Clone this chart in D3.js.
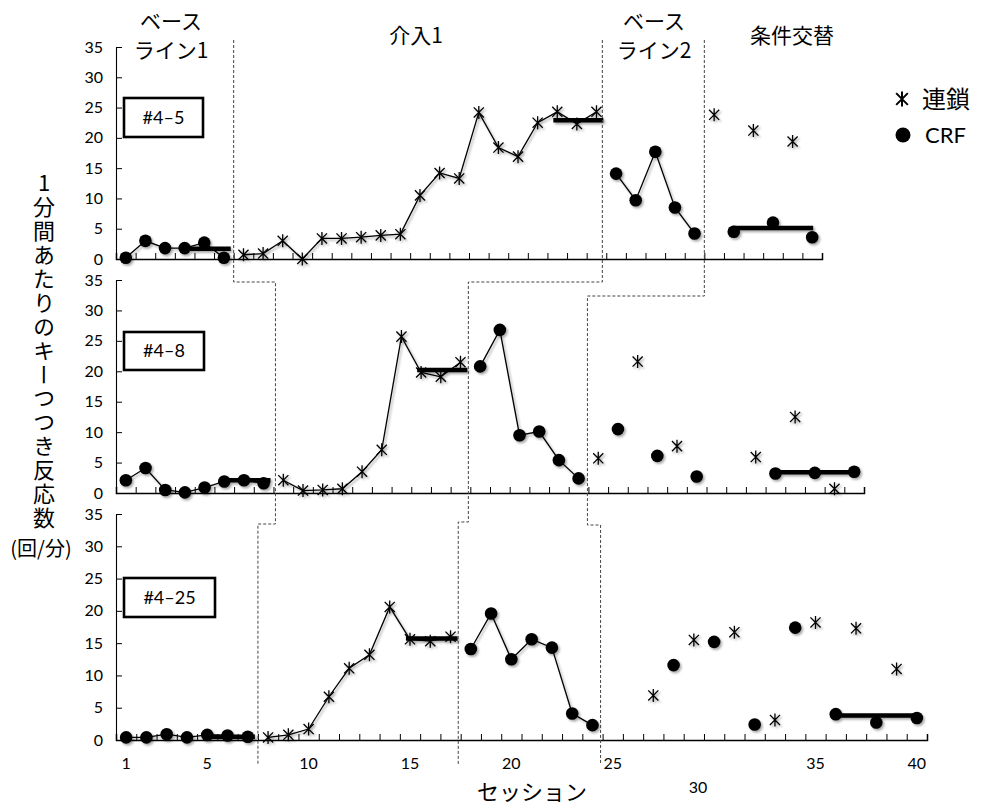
<!DOCTYPE html>
<html><head><meta charset="utf-8">
<script src="https://cdn.jsdelivr.net/npm/d3@7"></script>
<style>body{margin:0;background:#fff} svg{display:block}</style>
</head><body>
<svg id="chart" width="981" height="805"></svg>
<script>
// ---------------- DATA ----------------
const participants = ["#4\u20135", "#4\u20138", "#4\u201325"];
const sessionCounts = [36, 38, 40];
const yTicks = [0, 5, 10, 15, 20, 25, 30, 35];
const xTickLabels = [1, 5, 10, 15, 20, 25, 30, 35, 40];
const phaseNames = [["ベース", "ライン1"], ["介入1"], ["ベース", "ライン2"], ["条件交替"]];
const legendLabels = ["連鎖", "CRF"];
const yTitle = "1分間あたりのキーつつき反応数";
const yUnit = "(回/分)";
const xTitle = "セッション";

// phase start sessions per participant: baseline1, intervention1, baseline2, alternating
const p45_phaseStarts = [1, 7, 26, 31];
const p48_phaseStarts = [1, 9, 19, 25];
const p425_phaseStarts = [1, 8, 18, 25];

// #4-5
const p45_b1 = [0.2, 3.0, 1.8, 1.8, 2.7, 0.2];
const p45_i1 = [0.7, 0.9, 3.0, 0.0, 3.4, 3.4, 3.6, 3.9, 4.1, 10.5, 14.2, 13.3, 24.2, 18.4, 16.9, 22.5, 24.3, 22.3, 24.3];
const p45_b2 = [14.1, 9.7, 17.7, 8.5, 4.2];
const p45_altChain = [23.8, null, 21.2, null, 19.4, null];
const p45_altCrf = [null, 4.5, null, 6.0, null, 3.6];
const p45_means = [[4, 6, 1.7], [23, 25, 22.9], [32, 36, 5.1]];

// #4-8
const p48_b1 = [2.1, 4.1, 0.5, 0.1, 0.9, 1.9, 2.1, 1.6];
const p48_i1 = [2.1, 0.4, 0.5, 0.7, 3.5, 7.1, 25.7, 19.8, 19.1, 21.5];
const p48_b2 = [20.8, 26.8, 9.5, 10.1, 5.4, 2.4];
const p48_altChain = [5.7, null, 21.6, null, 7.7, null, null, null, 5.9, null, 12.5, null, 0.7, null];
const p48_altCrf = [null, 10.5, null, 6.1, null, 2.7, null, null, null, 3.2, null, 3.3, null, 3.5];
const p48_means = [[6, 8, 2.1], [16, 18, 20.2], [34, 38, 3.4]];

// #4-25
const p425_b1 = [0.4, 0.4, 0.9, 0.4, 0.8, 0.7, 0.5];
const p425_i1 = [0.4, 0.8, 1.7, 6.7, 11.1, 13.2, 20.6, 15.6, 15.3, 16.0];
const p425_b2 = [14.1, 19.6, 12.5, 15.6, 14.3, 4.1, 2.3];
const p425_altChain = [null, null, 6.9, null, 15.5, null, 16.7, null, 3.1, null, 18.2, null, 17.3, null, 11.0, null];
const p425_altCrf = [null, null, null, 11.6, null, 15.2, null, 2.4, null, 17.4, null, 4.0, null, 2.7, null, 3.4];
const p425_means = [[5, 7, 0.5], [15, 17, 15.7], [36, 40, 3.8]];

// ---------------- LAYOUT ----------------
const X0 = 116;
const layout = [
  {top: 47, bottom: 259, right: 822, box: [124, 98, 79, 39]},
  {top: 280, bottom: 493, right: 864, box: [124, 332, 80, 38]},
  {top: 514, bottom: 740, right: 927, box: [124, 578, 91, 39]}
];
const phaseJoinY = [[282, 524], [282, 522], [296, 525]];
const phaseLineNudge = [[0, 0.1, 0], [-0.2, -0.1, -0.12], [0, -0.05, -0.1]];
const phaseLabelX = [171, 416, 654, 792];

const panelData = [
  {starts: p45_phaseStarts, b1: p45_b1, i1: p45_i1, b2: p45_b2, altChain: p45_altChain, altCrf: p45_altCrf, means: p45_means},
  {starts: p48_phaseStarts, b1: p48_b1, i1: p48_i1, b2: p48_b2, altChain: p48_altChain, altCrf: p48_altCrf, means: p48_means},
  {starts: p425_phaseStarts, b1: p425_b1, i1: p425_i1, b2: p425_b2, altChain: p425_altChain, altCrf: p425_altCrf, means: p425_means}
];

const svg = d3.select("#chart");
const defs = svg.append("defs");
const flt = defs.append("filter").attr("id", "sh").attr("x", "-20%").attr("y", "-20%").attr("width", "140%").attr("height", "140%");
flt.append("feDropShadow").attr("dx", 1.6).attr("dy", 1.8).attr("stdDeviation", 1.1)
  .attr("flood-color", "#000").attr("flood-opacity", 0.35);

const numFont = "Lato, 'Open Sans', sans-serif";
const jpFont = "'Noto Sans CJK JP', 'Noto Sans', sans-serif";

function starPath(h) {
  const d = h * 0.78;
  return `M0,${-h}L0,${h}M${-d},${-d}L${d},${d}M${-d},${d}L${d},${-d}`;
}

const scales = [];

panelData.forEach((pd, pi) => {
  const L = layout[pi];
  const n = sessionCounts[pi];
  const sessions = d3.range(1, n + 1);
  const x = d3.scaleBand().domain(sessions).range([X0, L.right]).paddingInner(0).paddingOuter(0);
  const xc = s => x(s) + x.bandwidth() / 2;
  const xb = d3.scaleLinear().domain([0, n]).range([X0, L.right]);
  const y = d3.scaleLinear().domain([0, 35]).range([L.bottom, L.top]);
  scales.push({x, xc, xb, y});

  const g = svg.append("g");

  // y axis
  const ya = g.append("g").attr("transform", `translate(${X0},0)`)
    .call(d3.axisLeft(y).tickValues(yTicks).tickSize(-6).tickPadding(13));
  ya.select(".domain").attr("stroke", "#000").attr("stroke-width", 1.1);
  ya.selectAll(".tick line").attr("stroke", "#000").attr("stroke-width", 1);
  ya.selectAll(".tick text").attr("font-family", numFont).attr("font-size", 16).attr("fill", "#000");

  // x axis
  const xa = g.append("g").attr("transform", `translate(0,${L.bottom})`)
    .call(d3.axisBottom(xb).tickValues(d3.range(1, n + 1)).tickSize(-6).tickFormat(""));
  xa.select(".domain").attr("stroke", "#000").attr("stroke-width", 1.5);
  xa.selectAll(".tick line").attr("stroke", "#000").attr("stroke-width", 1);

  // participant box
  g.append("rect").attr("x", L.box[0]).attr("y", L.box[1]).attr("width", L.box[2]).attr("height", L.box[3])
    .attr("fill", "#fff").attr("stroke", "#000").attr("stroke-width", 2.6);
  g.append("text").attr("x", L.box[0] + L.box[2] / 2).attr("y", L.box[1] + L.box[3] / 2 + 6)
    .attr("text-anchor", "middle").attr("font-family", numFont).attr("font-size", 18).text(participants[pi]);

  const dg = g.append("g").attr("filter", "url(#sh)");
  const line = d3.line().defined(d => d.v != null).x(d => xc(d.s)).y(d => y(d.v));

  const connected = [
    {vals: pd.b1, start: pd.starts[0], type: "crf"},
    {vals: pd.i1, start: pd.starts[1], type: "chain"},
    {vals: pd.b2, start: pd.starts[2], type: "crf"}
  ];
  const drawMarkers = (pts, type) => {
    if (type === "crf") {
      dg.selectAll(null).data(pts).enter().append("circle")
        .attr("cx", d => xc(d.s)).attr("cy", d => y(d.v)).attr("r", 6.3).attr("fill", "#000");
    } else {
      dg.selectAll(null).data(pts).enter().append("path")
        .attr("d", starPath(6.5)).attr("transform", d => `translate(${xc(d.s)},${y(d.v)})`)
        .attr("stroke", "#000").attr("stroke-width", 1.3).attr("fill", "none");
    }
  };

  // mean lines (draw first so markers sit on top)
  pd.means.forEach((m, mi) => {
    const alt = mi === 2;
    const padL = alt ? 0.05 : 0.2, padR = alt ? 0.05 : 0.35;
    dg.append("line").attr("x1", xc(m[0]) - padL * x.bandwidth()).attr("x2", xc(m[1]) + padR * x.bandwidth())
      .attr("y1", y(m[2])).attr("y2", y(m[2])).attr("stroke", "#000").attr("stroke-width", 4.5);
  });

  connected.forEach(ph => {
    const pts = ph.vals.map((v, i) => ({s: ph.start + i, v}));
    dg.append("path").datum(pts).attr("d", line).attr("fill", "none").attr("stroke", "#000").attr("stroke-width", 1.3);
    drawMarkers(pts.filter(d => d.v != null), ph.type);
  });

  const altStart = pd.starts[3];
  drawMarkers(pd.altChain.map((v, i) => ({s: altStart + i, v})).filter(d => d.v != null), "chain");
  drawMarkers(pd.altCrf.map((v, i) => ({s: altStart + i, v})).filter(d => d.v != null), "crf");
});

// x tick labels on the bottom panel
{
  const s = scales[2];
  const L = layout[2];
  svg.append("g").selectAll("text").data(xTickLabels).enter().append("text")
    .attr("x", d => d === 30 ? s.xc(d) - 16 : s.xc(d))
    .attr("y", d => d === 30 ? L.bottom + 53 : L.bottom + 29)
    .attr("text-anchor", "middle").attr("font-family", numFont).attr("font-size", 16).text(d => d);
}

// phase change lines (dashed, stepping between panels)
for (let j = 1; j <= 3; j++) {
  const bx = scales.map((s, pi) => s.xb(panelData[pi].starts[j] - 1 + phaseLineNudge[j - 1][pi]));
  const [jy1, jy2] = phaseJoinY[j - 1];
  const pts = [[bx[0], 40], [bx[0], jy1], [bx[1], jy1], [bx[1], jy2], [bx[2], jy2], [bx[2], 764]];
  svg.append("path").attr("d", d3.line()(pts)).attr("fill", "none")
    .attr("stroke", "#444").attr("stroke-width", 1).attr("stroke-dasharray", "3,2");
}

// phase labels
phaseNames.forEach((lines, i) => {
  const t = svg.append("text").attr("text-anchor", "middle").attr("font-family", jpFont).attr("font-size", 21).attr("fill", "#000");
  if (lines.length === 2) {
    t.append("tspan").attr("x", phaseLabelX[i]).attr("y", 29).text(lines[0]);
    t.append("tspan").attr("x", phaseLabelX[i]).attr("y", 58).text(lines[1]);
  } else {
    t.append("tspan").attr("x", phaseLabelX[i]).attr("y", 43).text(lines[0]);
  }
});

// legend
{
  const lg = svg.append("g");
  lg.append("path").attr("d", starPath(7.5)).attr("transform", "translate(902,99)")
    .attr("stroke", "#000").attr("stroke-width", 2).attr("fill", "none");
  lg.append("text").attr("x", 922).attr("y", 108).attr("font-family", jpFont).attr("font-size", 24).text(legendLabels[0]);
  lg.append("circle").attr("cx", 903).attr("cy", 135).attr("r", 7.5).attr("fill", "#000");
  lg.append("text").attr("x", 925).attr("y", 143).attr("font-family", numFont).attr("font-size", 22).text(legendLabels[1]);
}

// y axis title (vertical writing)
svg.append("text").attr("x", 44).attr("y", 172)
  .attr("font-family", jpFont).attr("font-size", 22)
  .style("writing-mode", "vertical-rl").style("text-orientation", "upright")
  .style("letter-spacing", "1.9px")
  .text(yTitle);
svg.append("text").attr("x", 41).attr("y", 556).attr("text-anchor", "middle")
  .attr("font-family", jpFont).attr("font-size", 20).text(yUnit);

// x axis title
svg.append("text").attr("x", 532).attr("y", 800).attr("text-anchor", "middle")
  .attr("font-family", jpFont).attr("font-size", 22).text(xTitle);
</script>
</body></html>
